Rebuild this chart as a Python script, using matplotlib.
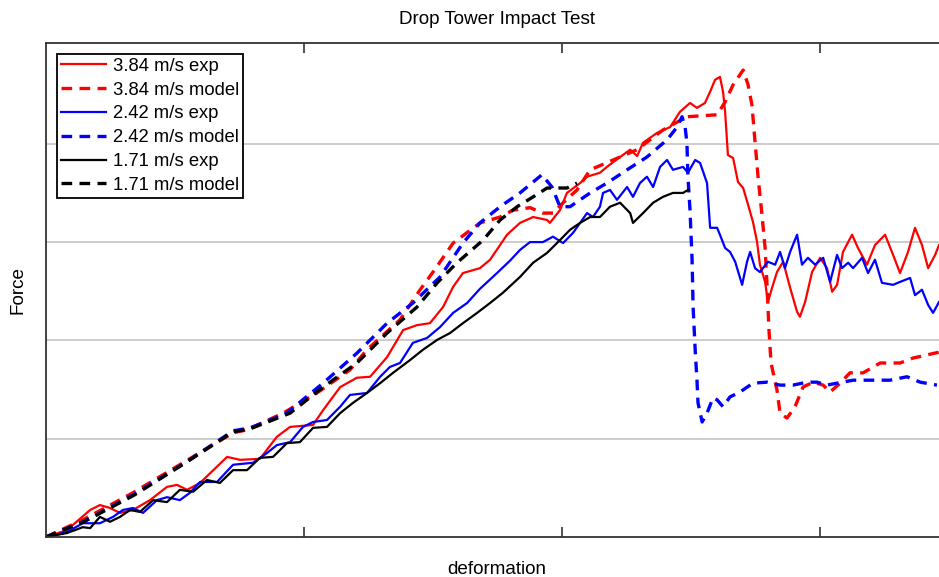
import matplotlib
matplotlib.use("Agg")
import matplotlib.pyplot as plt

# =========================
# DATA (deformation in mm, force in kN)
# =========================
x_384_model = [0, 1.43, 3.37, 5.31, 7.25, 7.79, 9.19, 10.50, 11.78, 12.44, 13.72, 14.50, 15.00, 15.78,
               16.82, 17.60, 18.10, 18.76, 19.26, 19.65, 20.04, 20.58, 21.09, 21.98, 22.91, 23.91, 24.84,
               26.01, 26.32, 26.63, 27.02, 27.21, 27.36, 27.48, 27.60, 27.75, 27.87, 27.95, 28.02, 28.10,
               28.33, 28.45, 28.72, 29.03, 29.34, 29.73, 30.12, 30.39, 30.78, 31.16, 31.67, 32.33, 33.10,
               33.60, 34.61]
f_384_model = [0, 0.35, 0.90, 1.51, 2.12, 2.18, 2.52, 2.93, 3.40, 3.81, 4.42, 5.03, 5.39, 5.98,
               6.39, 6.51, 6.65, 6.70, 6.59, 6.59, 6.80, 7.06, 7.47, 7.67, 7.88, 8.28, 8.55,
               8.59, 8.85, 9.20, 9.50, 9.20, 8.79, 8.04, 7.31, 6.55, 5.88, 5.07, 4.21, 3.54,
               2.99, 2.52, 2.42, 2.65, 3.05, 3.15, 3.09, 2.95, 3.13, 3.34, 3.34, 3.54, 3.54,
               3.64, 3.76]

x_242_model = [0, 1.51, 3.45, 5.39, 7.25, 7.91, 9.26, 9.46, 10.74, 12.05, 13.22, 14.22, 15.27, 16.16,
               16.82, 17.60, 18.37, 19.22, 19.61, 19.92, 20.31, 20.70, 21.09, 21.74, 22.52, 23.29, 24.07,
               24.46, 24.65, 24.77, 24.84, 24.88, 24.96, 25.04, 25.08, 25.16, 25.23, 25.27, 25.43, 25.62,
               25.85, 26.01, 26.24, 26.51, 26.90, 27.40, 27.95, 28.45, 28.95, 29.50, 29.88, 30.27, 30.66,
               31.28, 32.05, 32.71, 33.37, 33.88, 34.53]
f_242_model = [0, 0.33, 0.88, 1.51, 2.16, 2.22, 2.50, 2.58, 3.13, 3.74, 4.35, 4.76, 5.29, 5.98,
               6.39, 6.72, 7.00, 7.37, 7.12, 6.72, 6.72, 6.86, 7.00, 7.20, 7.47, 7.73, 8.08,
               8.34, 8.55, 8.34, 8.02, 7.33, 6.65, 5.64, 4.68, 3.81, 3.19, 2.73, 2.34, 2.52,
               2.83, 2.79, 2.65, 2.85, 2.95, 3.13, 3.15, 3.09, 3.09, 3.15, 3.15, 3.09, 3.13,
               3.19, 3.19, 3.19, 3.26, 3.15, 3.09]

x_171_model = [0, 1.47, 3.41, 5.35, 7.25, 7.91, 9.46, 10.74, 12.05, 13.22, 14.38, 15.16, 15.93, 16.94,
               17.60, 18.26, 18.88, 19.42, 20.19, 20.58]
f_171_model = [0, 0.31, 0.85, 1.49, 2.14, 2.20, 2.52, 3.05, 3.54, 4.15, 4.68, 5.17, 5.58, 6.04,
               6.45, 6.72, 6.92, 7.10, 7.10, 7.20]

x_384_exp = [0, 0.81, 1.71, 2.09, 2.48, 2.87, 3.37, 4.03, 4.69, 5.08, 5.47, 5.97, 7.02, 7.52, 8.29,
             8.95, 9.46, 10.35, 10.74, 11.40, 12.05, 12.56, 13.22, 13.84, 14.38, 14.88, 15.39, 15.78,
             16.16, 16.82, 17.21, 17.87, 18.37, 18.88, 19.42, 19.53, 19.92, 20.19, 20.70, 20.97, 21.47,
             21.74, 22.25, 22.64, 22.91, 23.14, 23.68, 24.19, 24.57, 24.96, 25.23, 25.54, 25.74, 25.93,
             26.12, 26.24, 26.32, 26.43, 26.63, 26.82, 27.02, 27.21, 27.40, 27.56, 27.67, 27.87, 27.98,
             28.14, 28.33, 28.57, 28.84, 29.11, 29.22, 29.42, 29.69, 30.00, 30.27, 30.47, 30.66, 30.89,
             31.24, 31.47, 31.82, 32.13, 32.52, 32.83, 33.10, 33.41, 33.68, 33.95, 34.19, 34.46, 34.61]
f_384_exp = [0, 0.14, 0.55, 0.65, 0.59, 0.49, 0.55, 0.75, 1.02, 1.06, 0.96, 1.10, 1.63, 1.57, 1.59,
             2.04, 2.24, 2.28, 2.58, 3.05, 3.24, 3.26, 3.66, 4.21, 4.31, 4.35, 4.68, 5.09,
             5.37, 5.47, 5.64, 6.15, 6.39, 6.51, 6.45, 6.39, 6.65, 7.00, 7.20, 7.33, 7.41,
             7.53, 7.73, 7.88, 7.75, 8.02, 8.22, 8.34, 8.65, 8.83, 8.73, 8.83, 9.06, 9.30,
             9.36, 9.06, 8.65, 7.77, 7.71, 7.22, 7.10, 6.76, 6.41, 6.00, 5.54, 5.19, 4.78,
             5.07, 5.39, 5.60, 5.07, 4.58, 4.48, 4.78, 5.39, 5.68, 5.47, 4.99, 5.13, 5.80,
             6.15, 5.88, 5.54, 5.94, 6.15, 5.74, 5.37, 5.80, 6.29, 5.94, 5.47, 5.74, 5.94]

x_242_exp = [0, 0.81, 1.43, 2.09, 2.60, 2.98, 3.37, 3.76, 4.30, 4.69, 5.19, 5.58, 5.97, 6.63, 7.25,
             8.02, 8.57, 8.95, 9.46, 9.96, 10.35, 10.89, 11.40, 11.78, 12.44, 12.95, 13.33, 13.72,
             14.22, 14.77, 15.27, 15.78, 16.32, 16.82, 17.48, 17.98, 18.37, 18.76, 19.26, 19.65, 20.04,
             20.43, 20.70, 20.97, 21.20, 21.47, 21.59, 21.86, 22.13, 22.52, 22.75, 23.02, 23.29, 23.53,
             23.80, 24.07, 24.30, 24.69, 24.88, 25.16, 25.35, 25.62, 25.74, 26.01, 26.12, 26.32, 26.51,
             26.71, 26.98, 27.17, 27.29, 27.48, 27.67, 27.98, 28.26, 28.45, 28.64, 28.84, 29.11, 29.30,
             29.53, 29.81, 30.12, 30.39, 30.66, 30.85, 31.09, 31.28, 31.63, 31.86, 32.13, 32.40, 32.83,
             33.10, 33.49, 33.68, 33.95, 34.19, 34.38, 34.61]
f_242_exp = [0, 0.10, 0.28, 0.28, 0.41, 0.55, 0.59, 0.49, 0.75, 0.81, 0.75, 0.90, 1.12, 1.12, 1.47,
             1.51, 1.71, 1.87, 1.93, 2.24, 2.34, 2.38, 2.65, 2.89, 2.93, 3.26, 3.46, 3.54,
             3.95, 4.05, 4.27, 4.56, 4.76, 5.05, 5.37, 5.62, 5.84, 6.00, 6.00, 6.11, 5.98,
             6.19, 6.39, 6.59, 6.51, 6.72, 7.00, 7.06, 6.86, 7.12, 6.92, 7.20, 7.33, 7.12,
             7.53, 7.67, 7.47, 7.53, 7.41, 7.67, 7.61, 7.20, 6.29, 6.29, 6.15, 5.88, 5.80,
             5.60, 5.13, 5.60, 5.80, 5.47, 5.39, 5.60, 5.54, 5.80, 5.47, 5.80, 6.15, 5.54,
             5.68, 5.54, 5.68, 5.19, 5.74, 5.47, 5.58, 5.47, 5.68, 5.37, 5.64, 5.17, 5.13,
             5.19, 5.27, 4.92, 5.03, 4.72, 4.56, 4.78]

x_171_exp = [0, 0.81, 1.43, 1.71, 2.09, 2.48, 2.87, 3.26, 3.64, 4.15, 4.69, 5.19, 5.70, 6.24, 6.74,
             7.25, 7.79, 8.29, 8.80, 9.34, 9.84, 10.35, 10.89, 11.40, 11.90, 12.44, 12.95, 13.45,
             14.11, 14.61, 15.16, 15.66, 16.16, 16.71, 17.21, 17.71, 18.37, 18.88, 19.42, 19.92, 20.31,
             20.70, 21.09, 21.47, 21.86, 22.25, 22.64, 22.75, 23.14, 23.53, 23.91, 24.30, 24.69, 24.88]
f_171_exp = [0, 0.08, 0.20, 0.18, 0.41, 0.31, 0.41, 0.55, 0.51, 0.75, 0.71, 0.96, 0.92, 1.16, 1.10,
             1.36, 1.36, 1.61, 1.63, 1.91, 1.93, 2.22, 2.24, 2.52, 2.73, 2.93, 3.13, 3.34,
             3.60, 3.81, 4.01, 4.15, 4.35, 4.56, 4.76, 4.97, 5.29, 5.58, 5.78, 6.04, 6.25,
             6.39, 6.51, 6.51, 6.72, 6.80, 6.59, 6.39, 6.59, 6.80, 6.92, 7.00, 7.00, 7.06]

labels = ['3.84 m/s exp', '3.84 m/s model', '2.42 m/s exp', '2.42 m/s model',
          '1.71 m/s exp', '1.71 m/s model']

# =========================
# PLOT
# =========================
plt.rcParams['font.family'] = ['Liberation Sans', 'DejaVu Sans']

fig = plt.figure(figsize=(9.39, 5.77), dpi=100)
ax = fig.add_axes([46/939, 1 - 537/577, 1 - 46/939, (537 - 43)/577])

dash = (0, (3.2, 2.2))
ax.plot(x_384_exp, f_384_exp, color='red', lw=1.6, label=labels[0])
ax.plot(x_384_model, f_384_model, color='red', lw=2.4, ls=dash, label=labels[1])
ax.plot(x_242_exp, f_242_exp, color='blue', lw=1.6, label=labels[2])
ax.plot(x_242_model, f_242_model, color='blue', lw=2.4, ls=dash, label=labels[3])
ax.plot(x_171_exp, f_171_exp, color='black', lw=1.6, label=labels[4])
ax.plot(x_171_model, f_171_model, color='black', lw=2.4, ls=dash, label=labels[5])

ax.set_xlim(0, 34.61)
ax.set_ylim(0, 10.05)
ax.set_xticks([10, 20, 30])
ax.set_yticks([2, 4, 6, 8])
ax.tick_params(axis='x', direction='in', length=7, width=1.2, top=True, labelbottom=False, colors='#333333')
ax.tick_params(axis='y', length=0, labelleft=False)
ax.grid(axis='y', color='#c8c8c8', lw=1.3)
ax.set_axisbelow(True)
for s in ['left', 'bottom', 'top']:
    ax.spines[s].set_color('#333333')
    ax.spines[s].set_linewidth(1.3)
ax.spines['right'].set_visible(False)

leg = ax.legend(loc='upper left', bbox_to_anchor=(11/893, (537 - 54)/494), borderaxespad=0,
                fontsize=13.3, handlelength=2.45, handletextpad=0.4, labelspacing=0.37,
                borderpad=0.2, fancybox=False, framealpha=1, edgecolor='black')
leg.get_frame().set_linewidth(1.3)

fig.text(497/939, 1 - 20/577, 'Drop Tower Impact Test', ha='center', va='center', fontsize=13.6)
fig.text(497/939, 1 - 570/577, 'deformation', ha='center', va='center', fontsize=13.6)
fig.text(18/939, 1 - 290/577, 'Force', ha='center', va='center', rotation=90, fontsize=13.6)

fig.savefig('out.png', dpi=100)
